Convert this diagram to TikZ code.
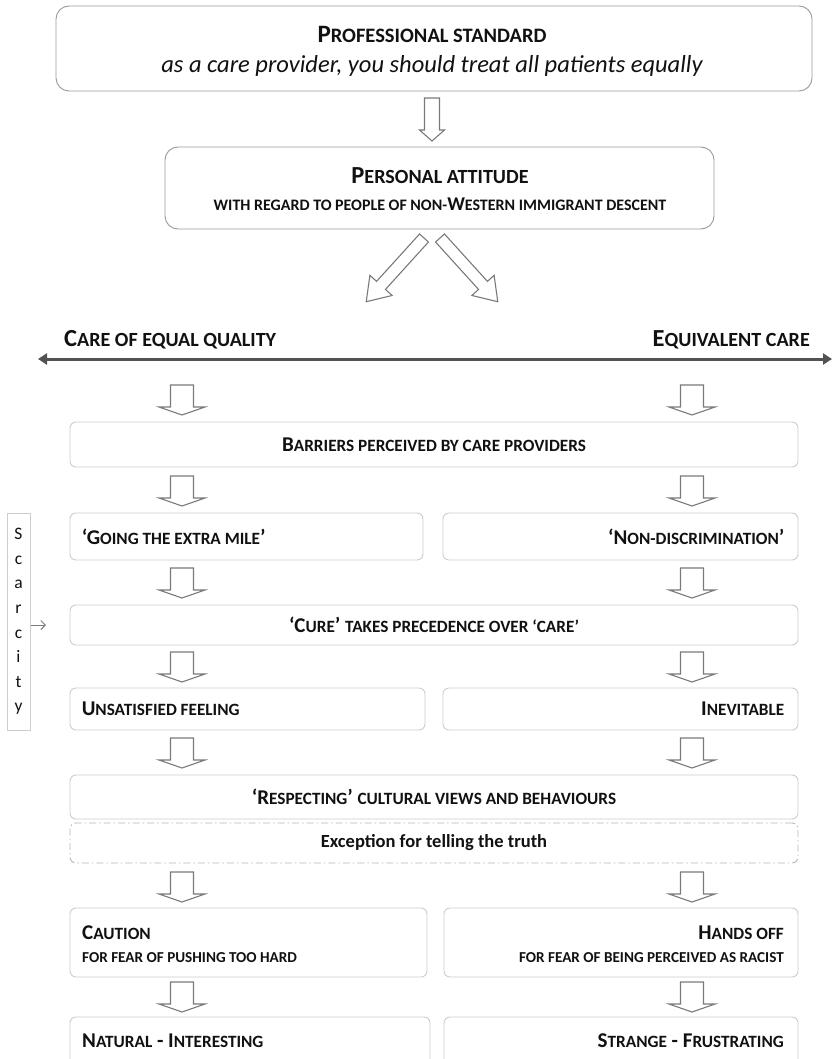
\documentclass[tikz,border=0pt]{standalone}
\usepackage{fontspec}
\setmainfont{Carlito}
\usetikzlibrary{arrows.meta}
\makeatletter
\newcommand\lc[1]{{\fontsize{\the\dimexpr\f@size pt*82/100\relax}{10pt}\selectfont\MakeUppercase{#1}}}
\makeatother
\definecolor{boxline}{HTML}{CDCDCD}
\definecolor{dashline}{HTML}{B8B8B8}
\definecolor{topline}{HTML}{9A9A9A}
\definecolor{arrline}{HTML}{7A7A7A}
\definecolor{txt}{HTML}{111111}
\tikzset{
  box/.style={draw=boxline, line width=0.9pt, rounded corners=6pt, fill=white, inner sep=0pt},
  topbox/.style={draw=topline, line width=0.9pt, rounded corners=13pt, fill=white, inner sep=0pt},
  arrowline/.style={draw=arrline, line width=1.1pt, fill=white, line join=miter},
  t/.style={inner sep=0pt, text=txt, font=\fontsize{21}{24}\selectfont\bfseries},
  st/.style={inner sep=0pt, text=txt, font=\fontsize{18.5}{21}\selectfont\bfseries},
  big/.style={inner sep=0pt, text=txt, font=\fontsize{25}{29}\selectfont\bfseries},
  dnarrow/.pic={\draw[arrowline] (-11.5,0) -- (-11.5,-22) -- (-23,-22) -- (0,-30) -- (23,-22) -- (11.5,-22) -- (11.5,0) -- cycle;},
  toparrow/.pic={\draw[arrowline] (-7.5,0) -- (-7.5,-32) -- (-12.5,-32) -- (0,-43) -- (12.5,-32) -- (7.5,-32) -- (7.5,0) -- cycle;}
}
\begin{document}
\begin{tikzpicture}[x=1pt,y=1pt]
\useasboundingbox (0,0) rectangle (832,-1059);
\clip (0,0) rectangle (832,-1059);
\fill[white] (0,0) rectangle (832,-1059);

% top boxes
\node[topbox, minimum width=756pt, minimum height=85pt] (prof) at (434,-48.5) {};
\node[big] (proft) at (432,-34) {P\lc{rofessional standard}};
\node[big, font=\fontsize{24.5}{28}\selectfont\itshape] (profs) at (432,-66) {as a care provider, you should treat all patients equally};

\pic at (432,-98) {toparrow};

\node[topbox, minimum width=549pt, minimum height=82pt] (pers) at (439.5,-188) {};
\node[big, font=\fontsize{24.5}{28}\selectfont\bfseries] (perst) at (440,-176) {P\lc{ersonal attitude}};
\node[st, font=\fontsize{19.5}{22}\selectfont\bfseries] (perss) at (440,-204) {\lc{with regard to people of non-}W\lc{estern immigrant descent}};

% diagonal arrows
\draw[arrowline, shift={(440,-238)}, rotate=-47.8] (0,-6) -- (64,-6) -- (64,-15) -- (86,0) -- (64,15) -- (64,6) -- (0,6) -- cycle;
\draw[arrowline, shift={(424,-238)}, rotate=-132.2] (0,-6) -- (64,-6) -- (64,-15) -- (86,0) -- (64,15) -- (64,6) -- (0,6) -- cycle;

% axis
\node[big, font=\fontsize{24.5}{28}\selectfont\bfseries, anchor=west] (eqq) at (64,-340) {C\lc{are of equal quality}};
\node[big, font=\fontsize{24.5}{28}\selectfont\bfseries, anchor=east] (eqv) at (810,-340) {E\lc{quivalent care}};
\coordinate (axl) at (38,-359);
\coordinate (axr) at (832,-359);
\draw[draw=black!68, line width=3pt, {Triangle[length=9pt,width=11pt]}-{Triangle[length=9pt,width=11pt]}] (axl) -- (axr);

% arrows row 1
\pic at (182,-385) {dnarrow};
\pic at (692,-385) {dnarrow};

\node[box, minimum width=728pt, minimum height=45pt] (barr) at (434,-444.5) {};
\node[t] at (barr) {B\lc{arriers perceived by care providers}};

\pic at (182,-476) {dnarrow};
\pic at (692,-476) {dnarrow};

\node[box, minimum width=353pt, minimum height=47pt] (going) at (246.5,-536.5) {};
\node[t, anchor=west] at ([xshift=12pt]going.west) {‘G\lc{oing the extra mile}’};
\node[box, minimum width=355pt, minimum height=47pt] (nondisc) at (620.5,-536.5) {};
\node[t, anchor=east] at ([xshift=-14pt]nondisc.east) {‘N\lc{on-discrimination}’};

\pic at (182,-568) {dnarrow};
\pic at (692,-568) {dnarrow};

\node[box, minimum width=728pt, minimum height=40pt] (cure) at (434,-625) {};
\node[t] at (cure) {‘C\lc{ure}’ \lc{takes precedence over ‘care’}};

\pic at (182,-652) {dnarrow};
\pic at (692,-652) {dnarrow};

\node[box, minimum width=355pt, minimum height=42pt] (unsat) at (247.5,-709) {};
\node[t, anchor=west] at ([xshift=12pt]unsat.west) {U\lc{nsatisfied feeling}};
\node[box, minimum width=355pt, minimum height=42pt] (inev) at (620.5,-709) {};
\node[t, anchor=east] at ([xshift=-14pt]inev.east) {I\lc{nevitable}};

\pic at (182,-738) {dnarrow};
\pic at (692,-738) {dnarrow};

\node[box, minimum width=728pt, minimum height=44pt] (resp) at (434,-797) {};
\node[t] at (resp) {‘R\lc{especting}’ \lc{cultural views and behaviours}};
\node[box, draw=dashline, dash pattern=on 7pt off 3pt on 1.5pt off 3pt, minimum width=728pt, minimum height=40pt] (exc) at (434,-843) {};
\node[t, font=\fontsize{18.5}{22}\selectfont\bfseries] at (exc) {Exception for telling the truth};

\pic at (182,-872) {dnarrow};
\pic at (692,-872) {dnarrow};

\node[box, minimum width=357pt, minimum height=69pt] (caut) at (248.5,-942.5) {};
\node[t, anchor=west] at (82,-933) {C\lc{aution}};
\node[st, anchor=west] at (82,-958) {\lc{for fear of pushing too hard}};
\node[box, minimum width=354pt, minimum height=69pt] (hands) at (621,-942.5) {};
\node[t, anchor=east] at (784,-933) {H\lc{ands off}};
\node[st, anchor=east] at (784,-958) {\lc{for fear of being perceived as racist}};

\pic at (182,-982) {dnarrow};
\pic at (692,-982) {dnarrow};

\node[box, minimum width=360pt, minimum height=60pt] (nat) at (250,-1047) {};
\node[t, anchor=west] at (82,-1041) {N\lc{atural} - I\lc{nteresting}};
\node[box, minimum width=354pt, minimum height=60pt] (strange) at (621,-1047) {};
\node[t, anchor=east] at (784,-1041) {S\lc{trange} - F\lc{rustrating}};

% scarcity
\node[box, rounded corners=0pt, minimum width=23pt, minimum height=217pt, align=center, text=txt,
      font=\fontsize{17.5}{24.6}\selectfont] (scar) at (18.5,-621.5) {S\\c\\a\\r\\c\\i\\t\\y};
\coordinate (scarend) at (46,-625);
\draw[draw=arrline, line width=1pt, -{Straight Barb[length=4.5pt,width=9pt]}] (scar.east |- scarend) ++(1,0) -- (scarend);
\end{tikzpicture}
\end{document}
